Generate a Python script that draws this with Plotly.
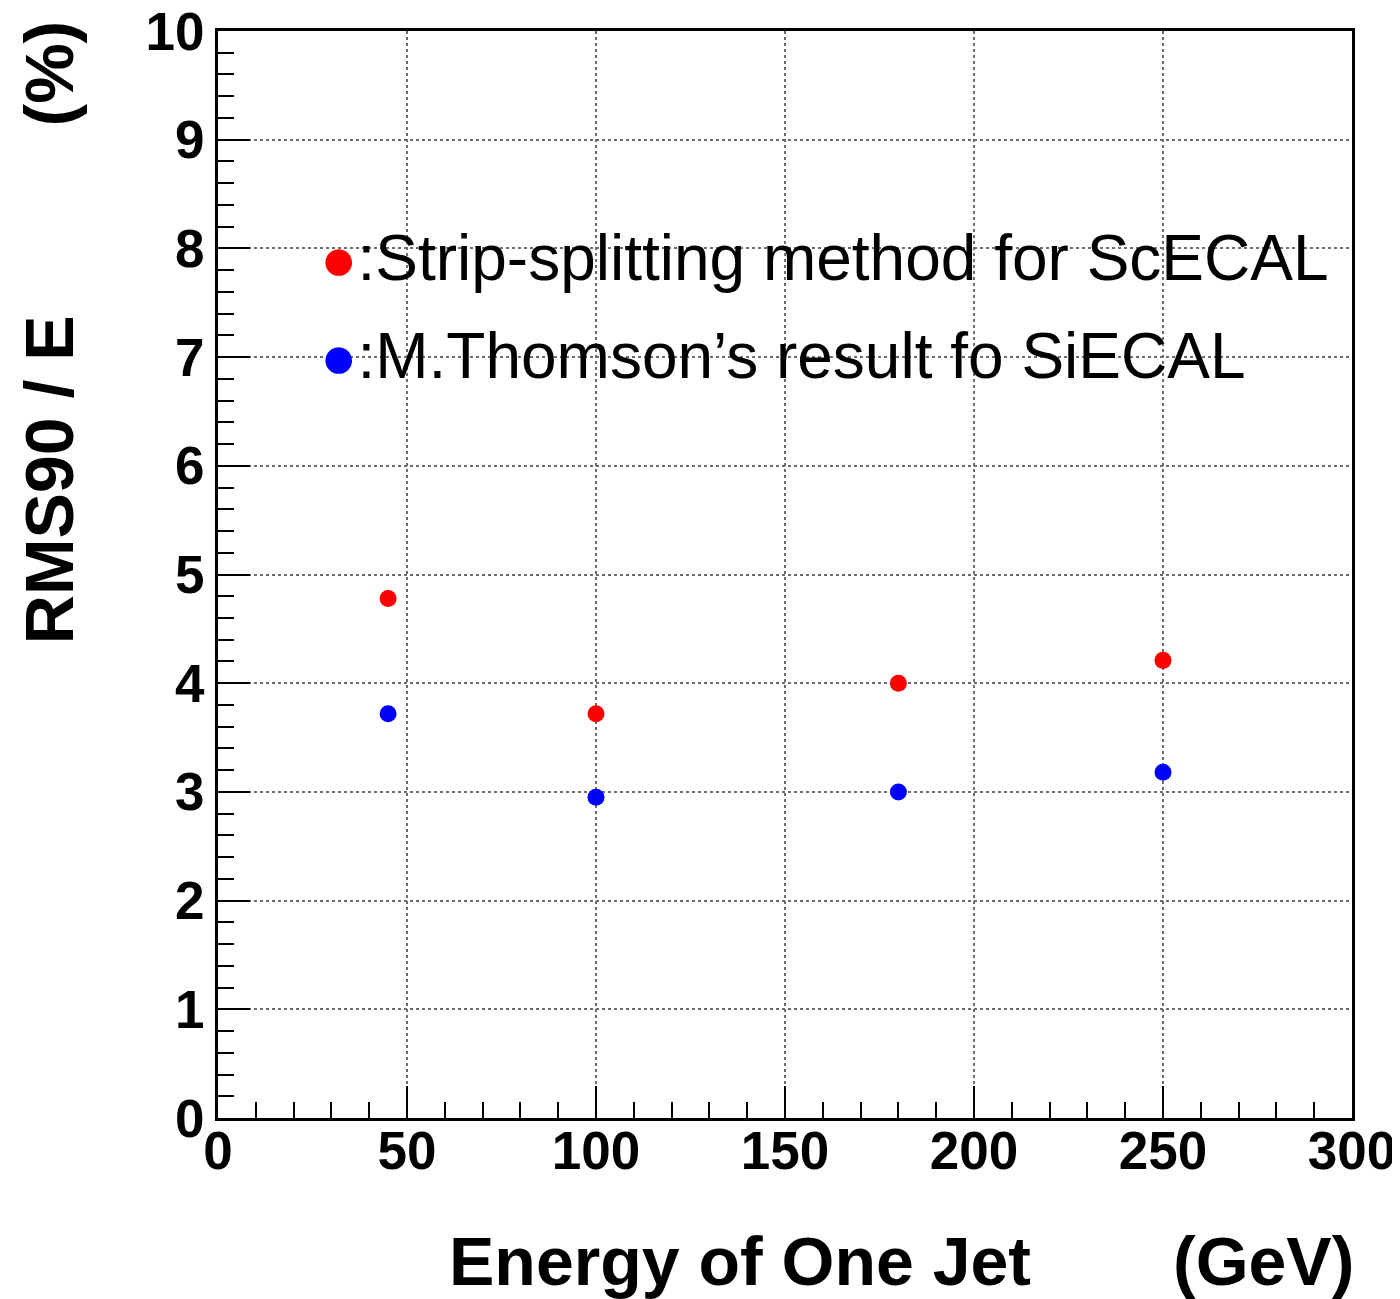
import plotly.graph_objects as go

# Data
ENERGY = [45, 100, 180, 250]
SCECAL_RMS90 = [4.78, 3.72, 4.00, 4.21]
SIECAL_RMS90 = [3.72, 2.95, 3.00, 3.18]

SERIES_NAMES = [":Strip-splitting method for ScECAL", ":M.Thomson\u2019s result fo SiECAL"]
SERIES_COLORS = ["#ff0000", "#0000ff"]

X_TITLE = "Energy of One Jet"
X_UNIT = "(GeV)"
Y_TITLE = "RMS90 / E" + "\u00a0" * 10 + "(%)"

FONT = "Liberation Sans, Arial, Helvetica, sans-serif"

fig = go.Figure()

for yvals, name, color in zip([SCECAL_RMS90, SIECAL_RMS90], SERIES_NAMES, SERIES_COLORS):
    fig.add_trace(
        go.Scatter(
            x=ENERGY,
            y=yvals,
            mode="markers",
            name=name,
            marker=dict(color=color, size=17),
            showlegend=False,
        )
    )

# Hand-drawn style legend (bullet + text) as in the original
for i, (name, color) in enumerate(zip(SERIES_NAMES, SERIES_COLORS)):
    fig.add_annotation(
        xref="paper", yref="paper",
        x=0.088, y=0.791 - i * 0.090,
        xanchor="left", yanchor="middle",
        text=f"<span style='color:{color};font-size:62px'>\u25cf</span>{name}",
        showarrow=False,
        font=dict(family=FONT, size=64, color="black"),
    )

title_font = dict(family=FONT, size=68, color="black", weight="bold")
fig.add_annotation(
    xref="paper", yref="paper", x=0.202, y=-0.095,
    xanchor="left", yanchor="top", showarrow=False,
    text=X_TITLE, font=title_font,
)
fig.add_annotation(
    xref="paper", yref="paper", x=1.0035, y=-0.095,
    xanchor="right", yanchor="top", showarrow=False,
    text=X_UNIT, font=title_font,
)
fig.add_annotation(
    xref="paper", yref="paper", x=-0.149, y=0.722,
    xanchor="center", yanchor="middle", showarrow=False,
    textangle=-90, text=Y_TITLE, font=title_font,
)

axis_common = dict(
    showline=True,
    linecolor="black",
    linewidth=3,
    mirror=True,
    ticks="inside",
    ticklen=32,
    tickwidth=2,
    tickcolor="black",
    showgrid=True,
    gridcolor="#6e6e6e",
    gridwidth=2,
    griddash="dot",
    zeroline=False,
    automargin=False,
    ticklabeloverflow="allow",
    tickfont=dict(family=FONT, size=53, color="black", weight="bold"),
)

fig.update_xaxes(
    range=[0, 300],
    dtick=50,
    tick0=0,
    ticklabelstandoff=-16,
    minor=dict(dtick=10, ticks="inside", ticklen=16, tickwidth=2, tickcolor="black", showgrid=False),
    **axis_common,
)
fig.update_yaxes(
    range=[0, 10],
    dtick=1,
    tick0=0,
    minor=dict(dtick=0.2, ticks="inside", ticklen=16, tickwidth=2, tickcolor="black", showgrid=False),
    **axis_common,
)

# the page body adds a small offset, so margins are set a few px short of target
fig.update_layout(
    width=1400,
    height=1299,
    margin=dict(l=210, r=56, t=23, b=189),
    plot_bgcolor="white",
    paper_bgcolor="white",
    showlegend=False,
)

fig.write_html("out.html")
